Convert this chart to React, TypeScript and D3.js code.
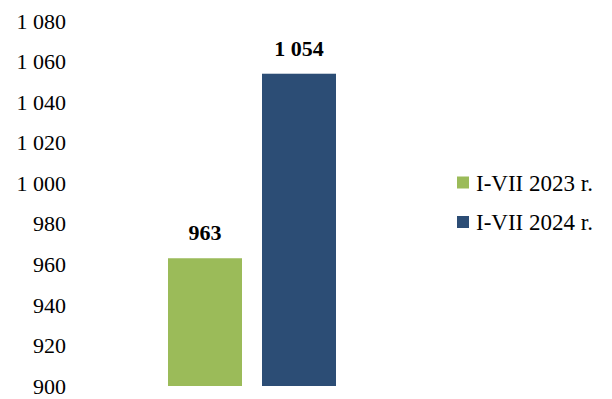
import React from "react";
import * as d3 from "d3";

const categories = ["I-VII"];
const seriesNames = ["I-VII 2023 r.", "I-VII 2024 r."];
const seriesValues = [963, 1054];
const seriesColors = ["#9BBB59", "#2C4D75"];
const yTicks = [900, 920, 940, 960, 980, 1000, 1020, 1040, 1060, 1080];

const W = 612;
const H = 399;
const FONT = "Liberation Serif, DejaVu Serif, serif";

const fmt = (v: number) => {
  const s = String(Math.round(v));
  return s.replace(/\B(?=(\d{3})+(?!\d))/g, " ");
};

export default function App() {
  const y = d3.scaleLinear().domain([900, 1080]).range([386, 21]);
  const x = d3
    .scaleBand<string>()
    .domain(seriesNames)
    .range([168, 336])
    .paddingInner(20 / 94)
    .paddingOuter(0);

  return (
    <svg
      width={W}
      height={H}
      style={{ position: "absolute", left: 0, top: 0, background: "#fff", fontFamily: FONT }}
    >
      {yTicks.map((t) => (
        <text
          key={t}
          x={66}
          y={y(t)}
          dy="0.35em"
          textAnchor="end"
          fontSize={22}
          fill="#000"
          style={{ fontFamily: FONT }}
        >
          {fmt(t)}
        </text>
      ))}
      {categories.map((c) =>
        seriesNames.map((s, i) => {
          const v = seriesValues[i];
          const bx = x(s) as number;
          return (
            <g key={c + s}>
              <rect
                x={bx}
                y={y(v)}
                width={x.bandwidth()}
                height={y(900) - y(v)}
                fill={seriesColors[i]}
              />
              <text
                x={bx + x.bandwidth() / 2}
                y={y(v) - 18}
                textAnchor="middle"
                fontSize={22}
                fontWeight="bold"
                fill="#000"
                style={{ fontFamily: FONT }}
              >
                {fmt(v)}
              </text>
            </g>
          );
        })
      )}
      {seriesNames.map((s, i) => {
        const cy = 182.5 + i * 39.5;
        return (
          <g key={"leg" + s}>
            <rect x={457} y={cy - 6} width={12} height={12} fill={seriesColors[i]} />
            <text x={476} y={cy} dy="0.35em" fontSize={23} fill="#000" style={{ fontFamily: FONT }}>
              {s}
            </text>
          </g>
        );
      })}
    </svg>
  );
}
